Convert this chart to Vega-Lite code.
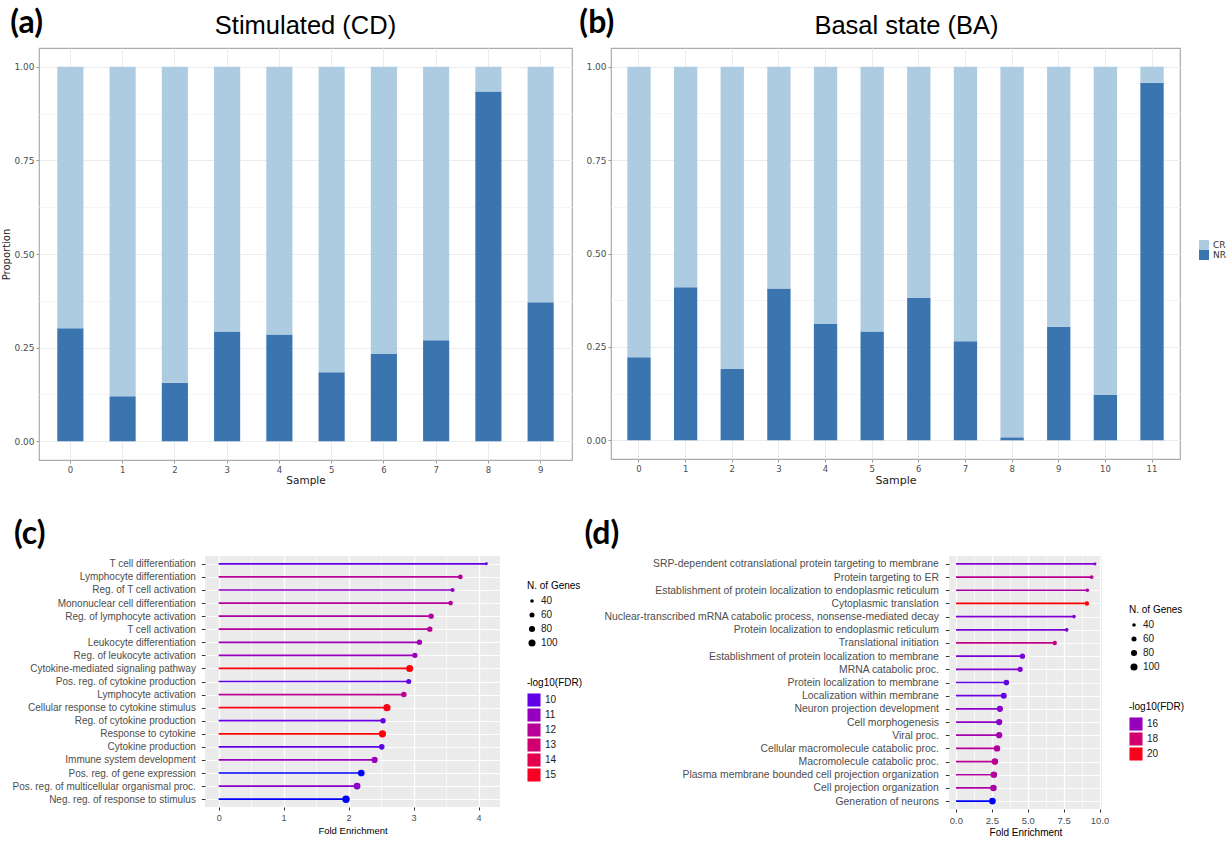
{
  "$schema": "https://vega.github.io/schema/vega-lite/v6.json",
  "background": "white",
  "padding": {"left": 1, "top": 6, "right": 5, "bottom": 2},
  "config": {
    "font": "Liberation Sans",
    "view": {"stroke": null},
    "title": {"color": "black"},
    "legend": {"layout": {"right": {"anchor": "middle", "direction": "vertical", "margin": 30}}}
  },
  "datasets": {
    "a": [
      {"sample": 0, "group": "NR", "value": 0.302}, {"sample": 0, "group": "CR", "value": 0.698},
      {"sample": 1, "group": "NR", "value": 0.120}, {"sample": 1, "group": "CR", "value": 0.880},
      {"sample": 2, "group": "NR", "value": 0.156}, {"sample": 2, "group": "CR", "value": 0.844},
      {"sample": 3, "group": "NR", "value": 0.293}, {"sample": 3, "group": "CR", "value": 0.707},
      {"sample": 4, "group": "NR", "value": 0.285}, {"sample": 4, "group": "CR", "value": 0.715},
      {"sample": 5, "group": "NR", "value": 0.184}, {"sample": 5, "group": "CR", "value": 0.816},
      {"sample": 6, "group": "NR", "value": 0.233}, {"sample": 6, "group": "CR", "value": 0.767},
      {"sample": 7, "group": "NR", "value": 0.270}, {"sample": 7, "group": "CR", "value": 0.730},
      {"sample": 8, "group": "NR", "value": 0.934}, {"sample": 8, "group": "CR", "value": 0.066},
      {"sample": 9, "group": "NR", "value": 0.371}, {"sample": 9, "group": "CR", "value": 0.629}
    ],
    "b": [
      {"sample": 0, "group": "NR", "value": 0.222}, {"sample": 0, "group": "CR", "value": 0.778},
      {"sample": 1, "group": "NR", "value": 0.410}, {"sample": 1, "group": "CR", "value": 0.590},
      {"sample": 2, "group": "NR", "value": 0.191}, {"sample": 2, "group": "CR", "value": 0.809},
      {"sample": 3, "group": "NR", "value": 0.406}, {"sample": 3, "group": "CR", "value": 0.594},
      {"sample": 4, "group": "NR", "value": 0.311}, {"sample": 4, "group": "CR", "value": 0.689},
      {"sample": 5, "group": "NR", "value": 0.291}, {"sample": 5, "group": "CR", "value": 0.709},
      {"sample": 6, "group": "NR", "value": 0.381}, {"sample": 6, "group": "CR", "value": 0.619},
      {"sample": 7, "group": "NR", "value": 0.265}, {"sample": 7, "group": "CR", "value": 0.735},
      {"sample": 8, "group": "NR", "value": 0.008}, {"sample": 8, "group": "CR", "value": 0.992},
      {"sample": 9, "group": "NR", "value": 0.304}, {"sample": 9, "group": "CR", "value": 0.696},
      {"sample": 10, "group": "NR", "value": 0.121}, {"sample": 10, "group": "CR", "value": 0.879},
      {"sample": 11, "group": "NR", "value": 0.957}, {"sample": 11, "group": "CR", "value": 0.043}
    ],
    "c": [
      {"term": "T cell differentiation", "fe": 4.12, "genes": 33, "fdr": 10.0},
      {"term": "Lymphocyte differentiation", "fe": 3.72, "genes": 55, "fdr": 12.0},
      {"term": "Reg. of T cell activation", "fe": 3.60, "genes": 47, "fdr": 10.8},
      {"term": "Mononuclear cell differentiation", "fe": 3.57, "genes": 55, "fdr": 12.0},
      {"term": "Reg. of lymphocyte activation", "fe": 3.27, "genes": 65, "fdr": 11.7},
      {"term": "T cell activation", "fe": 3.25, "genes": 65, "fdr": 12.0},
      {"term": "Leukocyte differentiation", "fe": 3.09, "genes": 65, "fdr": 11.3},
      {"term": "Reg. of leukocyte activation", "fe": 3.02, "genes": 65, "fdr": 11.1},
      {"term": "Cytokine-mediated signaling pathway", "fe": 2.94, "genes": 100, "fdr": 15.3},
      {"term": "Pos. reg. of cytokine production", "fe": 2.925, "genes": 60, "fdr": 10.0},
      {"term": "Lymphocyte activation", "fe": 2.85, "genes": 68, "fdr": 12.1},
      {"term": "Cellular response to cytokine stimulus", "fe": 2.59, "genes": 102, "fdr": 15.2},
      {"term": "Reg. of cytokine production", "fe": 2.53, "genes": 65, "fdr": 10.1},
      {"term": "Response to cytokine", "fe": 2.52, "genes": 105, "fdr": 15.4},
      {"term": "Cytokine production", "fe": 2.51, "genes": 70, "fdr": 10.0},
      {"term": "Immune system development", "fe": 2.40, "genes": 82, "fdr": 11.1},
      {"term": "Pos. reg. of gene expression", "fe": 2.195, "genes": 92, "fdr": 9.4},
      {"term": "Pos. reg. of multicellular organismal proc.", "fe": 2.13, "genes": 95, "fdr": 10.7},
      {"term": "Neg. reg. of response to stimulus", "fe": 1.96, "genes": 110, "fdr": 9.4}
    ],
    "d": [
      {"term": "SRP-dependent cotranslational protein targeting to membrane", "fe": 9.68, "genes": 33, "fdr": 15.6},
      {"term": "Protein targeting to ER", "fe": 9.45, "genes": 42, "fdr": 17.1},
      {"term": "Establishment of protein localization to endoplasmic reticulum", "fe": 9.15, "genes": 40, "fdr": 16.6},
      {"term": "Cytoplasmic translation", "fe": 9.12, "genes": 50, "fdr": 20.3},
      {"term": "Nuclear-transcribed mRNA catabolic process, nonsense-mediated decay", "fe": 8.22, "genes": 40, "fdr": 15.5},
      {"term": "Protein localization to endoplasmic reticulum", "fe": 7.71, "genes": 42, "fdr": 15.4},
      {"term": "Translational initiation", "fe": 6.88, "genes": 50, "fdr": 17.4},
      {"term": "Establishment of protein localization to membrane", "fe": 4.63, "genes": 65, "fdr": 15.4},
      {"term": "MRNA catabolic proc.", "fe": 4.47, "genes": 65, "fdr": 15.5},
      {"term": "Protein localization to membrane", "fe": 3.51, "genes": 70, "fdr": 15.0},
      {"term": "Localization within membrane", "fe": 3.33, "genes": 77, "fdr": 15.1},
      {"term": "Neuron projection development", "fe": 3.06, "genes": 82, "fdr": 15.7},
      {"term": "Cell morphogenesis", "fe": 3.01, "genes": 82, "fdr": 15.8},
      {"term": "Viral proc.", "fe": 3.01, "genes": 82, "fdr": 16.4},
      {"term": "Cellular macromolecule catabolic proc.", "fe": 2.86, "genes": 85, "fdr": 16.9},
      {"term": "Macromolecule catabolic proc.", "fe": 2.71, "genes": 88, "fdr": 17.1},
      {"term": "Plasma membrane bounded cell projection organization", "fe": 2.64, "genes": 88, "fdr": 16.8},
      {"term": "Cell projection organization", "fe": 2.61, "genes": 88, "fdr": 16.6},
      {"term": "Generation of neurons", "fe": 2.54, "genes": 92, "fdr": 14.4}
    ]
  },
  "spacing": 31,
  "vconcat": [
    {
      "spacing": 6,
      "resolve": {"scale": {"color": "independent"}, "legend": {"color": "independent"}},
      "hconcat": [
        {
          "title": {"text": "(a)", "anchor": "start", "font": "Lato", "fontSize": 32, "fontWeight": "bold", "dx": 9, "dy": 27, "offset": 0},
          "vconcat": [
            {
              "title": {"text": "Stimulated (CD)", "frame": "group", "anchor": "middle", "fontSize": 25.5, "fontWeight": "normal", "offset": 9},
              "width": 533, "height": 412,
              "data": {"name": "a"},
              "view": {"stroke": "#ABABAB", "strokeWidth": 1.2},
              "mark": {"type": "bar"},
              "encoding": {
                "x": {"field": "sample", "type": "ordinal", "title": "Sample",
                  "scale": {"paddingInner": 0.5, "paddingOuter": 0.35},
                  "axis": {"labelAngle": 0, "bandPosition": 0.5, "grid": true, "gridColor": "#EBEBEB", "domain": false, "tickColor": "#999999", "tickSize": 3, "labelFont": "DejaVu Sans", "labelFontSize": 8.5, "labelColor": "#4D4D4D", "labelPadding": 2, "titleFont": "DejaVu Sans", "titleFontSize": 10.5, "titleFontWeight": "normal", "titleColor": "#1A1A1A", "titlePadding": 2}},
                "y": {"field": "value", "type": "quantitative", "stack": "zero", "title": "Proportion",
                  "scale": {"domain": [-0.05, 1.05], "nice": false, "zero": false},
                  "axis": {"values": [0, 0.125, 0.25, 0.375, 0.5, 0.625, 0.75, 0.875, 1], "labelExpr": "datum.value % 0.25 == 0 ? format(datum.value, '.2f') : ''", "grid": true, "gridColor": {"condition": {"test": "datum.value % 0.25 != 0", "value": "#F5F5F5"}, "value": "#EBEBEB"}, "domain": false, "tickColor": {"condition": {"test": "datum.value % 0.25 != 0", "value": "transparent"}, "value": "#999999"}, "tickSize": 3, "labelFont": "DejaVu Sans", "labelFontSize": 9, "labelColor": "#4D4D4D", "labelPadding": 2, "titleFont": "DejaVu Sans", "titleFontSize": 10, "titleFontWeight": "normal", "titleColor": "#1A1A1A", "titlePadding": 2}},
                "color": {"field": "group", "type": "nominal", "scale": {"domain": ["CR", "NR"], "range": ["#AECCE1", "#3B75AF"]}, "legend": null},
                "order": {"field": "group", "type": "nominal", "sort": "descending"}
              }
            }
          ]
        },
        {
          "title": {"text": "(b)", "anchor": "start", "font": "Lato", "fontSize": 32, "fontWeight": "bold", "dx": -6, "dy": 27, "offset": 0},
          "vconcat": [
            {
              "title": {"text": "Basal state (BA)", "anchor": "middle", "fontSize": 25.5, "fontWeight": "normal", "offset": 9, "dx": 11},
              "width": 569, "height": 411,
              "data": {"name": "b"},
              "view": {"stroke": "#ABABAB", "strokeWidth": 1.2},
              "mark": {"type": "bar"},
              "encoding": {
                "x": {"field": "sample", "type": "ordinal", "title": "Sample",
                  "scale": {"paddingInner": 0.5, "paddingOuter": 0.35},
                  "axis": {"labelAngle": 0, "bandPosition": 0.5, "grid": true, "gridColor": "#EBEBEB", "domain": false, "tickColor": "#999999", "tickSize": 3, "labelFont": "DejaVu Sans", "labelFontSize": 8.5, "labelColor": "#4D4D4D", "labelPadding": 2, "titleFont": "DejaVu Sans", "titleFontSize": 11, "titleFontWeight": "normal", "titleColor": "#1A1A1A", "titlePadding": 2}},
                "y": {"field": "value", "type": "quantitative", "stack": "zero", "title": null,
                  "scale": {"domain": [-0.05, 1.05], "nice": false, "zero": false},
                  "axis": {"values": [0, 0.125, 0.25, 0.375, 0.5, 0.625, 0.75, 0.875, 1], "labelExpr": "datum.value % 0.25 == 0 ? format(datum.value, '.2f') : ''", "grid": true, "gridColor": {"condition": {"test": "datum.value % 0.25 != 0", "value": "#F5F5F5"}, "value": "#EBEBEB"}, "domain": false, "tickColor": {"condition": {"test": "datum.value % 0.25 != 0", "value": "transparent"}, "value": "#999999"}, "tickSize": 3, "labelFont": "DejaVu Sans", "labelFontSize": 9, "labelColor": "#4D4D4D", "labelPadding": 2}},
                "color": {"field": "group", "type": "nominal", "scale": {"domain": ["CR", "NR"], "range": ["#AECCE1", "#3B75AF"]},
                  "legend": {"title": null, "symbolType": "square", "symbolSize": 100, "symbolStrokeWidth": 0, "rowPadding": 0, "labelFont": "DejaVu Sans", "labelFontSize": 9, "labelColor": "#333333", "offset": 18}},
                "order": {"field": "group", "type": "nominal", "sort": "descending"}
              }
            }
          ]
        }
      ]
    },
    {
      "spacing": -29,
      "hconcat": [
        {
          "width": 1, "height": 1,
          "data": {"values": []},
          "mark": {"type": "point"},
          "encoding": {}
        },
        {
          "spacing": 1,
          "resolve": {"scale": {"fill": "independent", "stroke": "independent", "size": "independent"}, "legend": {"fill": "independent", "stroke": "independent", "size": "independent"}},
          "hconcat": [
            {
              "title": {"text": "(c)", "anchor": "start", "font": "Lato", "fontSize": 32, "fontWeight": "bold", "dx": 2, "offset": 5},
              "width": 295, "height": 251,
              "data": {"name": "c"},
              "view": {"fill": "#EBEBEB", "stroke": null},
              "encoding": {
                "y": {"field": "term", "type": "nominal", "sort": null, "title": null,
                  "scale": {"type": "point", "padding": 0.6},
                  "axis": {"grid": true, "gridColor": "white", "gridWidth": 1.2, "domain": false, "tickColor": "#333333", "tickSize": 3.6, "labelFontSize": 10, "labelColor": "#4D4D4D", "labelPadding": 6, "labelLimit": 400}},
                "x": {"field": "fe", "type": "quantitative", "title": "Fold Enrichment",
                  "scale": {"domain": [-0.21, 4.33], "nice": false, "zero": false},
                  "axis": {"values": [0, 0.5, 1, 1.5, 2, 2.5, 3, 3.5, 4], "labelExpr": "datum.value % 1 == 0 ? format(datum.value, 'd') : ''", "grid": true, "gridColor": "white", "gridWidth": {"condition": {"test": "datum.value % 1 != 0", "value": 0.6}, "value": 1.3}, "domain": false, "tickColor": {"condition": {"test": "datum.value % 1 != 0", "value": "transparent"}, "value": "#333333"}, "tickSize": 3, "labelFontSize": 9, "labelColor": "#4D4D4D", "labelPadding": 3, "titleFontSize": 9.5, "titleFontWeight": "normal", "titleColor": "black", "titlePadding": 3}}
              },
              "layer": [
                {
                  "mark": {"type": "rule", "strokeWidth": 1.7},
                  "encoding": {
                    "x2": {"datum": 0},
                    "stroke": {"field": "fdr", "type": "quantitative", "scale": {"domain": [9.4, 15.40001], "range": ["#0000FF", "#FF0000"], "interpolate": "lab"}, "legend": null}
                  }
                },
                {
                  "mark": {"type": "circle", "opacity": 1},
                  "encoding": {
                    "size": {"field": "genes", "type": "quantitative", "title": "N. of Genes",
                      "scale": {"domain": [40, 100], "range": [13, 50], "zero": false},
                      "legend": {"values": [40, 60, 80, 100], "symbolFillColor": "black", "symbolStrokeWidth": 0, "rowPadding": 4, "titleFontSize": 10, "titleFontWeight": "normal", "titleColor": "black", "labelFontSize": 10, "labelColor": "#1A1A1A", "offset": 27}},
                    "fill": {"field": "fdr", "type": "quantitative", "title": "-log10(FDR)",
                      "scale": {"domain": [9.4, 15.4], "range": ["#0000FF", "#FF0000"], "interpolate": "lab"},
                      "legend": {"type": "symbol", "values": [10, 11, 12, 13, 14, 15], "symbolType": "square", "symbolSize": 170, "symbolStrokeWidth": 0, "titleFontSize": 10, "titleFontWeight": "normal", "titleColor": "black", "labelFontSize": 10, "labelColor": "#1A1A1A", "rowPadding": 1, "offset": 27}}
                  }
                }
              ]
            },
            {
              "title": {"text": "(d)", "anchor": "start", "font": "Lato", "fontSize": 32, "fontWeight": "bold", "dx": -19, "offset": 5},
              "width": 153, "height": 253,
              "data": {"name": "d"},
              "view": {"fill": "#EBEBEB", "stroke": null},
              "encoding": {
                "y": {"field": "term", "type": "nominal", "sort": null, "title": null,
                  "scale": {"type": "point", "padding": 0.6},
                  "axis": {"grid": true, "gridColor": "white", "gridWidth": 1.2, "domain": false, "tickColor": "#333333", "tickSize": 3.6, "labelFontSize": 10.4, "labelColor": "#4D4D4D", "labelPadding": 7, "labelLimit": 500}},
                "x": {"field": "fe", "type": "quantitative", "title": "Fold Enrichment",
                  "scale": {"domain": [-0.484, 10.17], "nice": false, "zero": false},
                  "axis": {"values": [0, 1.25, 2.5, 3.75, 5, 6.25, 7.5, 8.75, 10], "labelExpr": "datum.value % 2.5 == 0 ? format(datum.value, '.1f') : ''", "grid": true, "gridColor": "white", "gridWidth": {"condition": {"test": "datum.value % 2.5 != 0", "value": 0.6}, "value": 1.3}, "domain": false, "tickColor": {"condition": {"test": "datum.value % 2.5 != 0", "value": "transparent"}, "value": "#333333"}, "tickSize": 3, "labelFontSize": 9.5, "labelColor": "#4D4D4D", "labelPadding": 3, "titleFontSize": 10, "titleFontWeight": "normal", "titleColor": "black", "titlePadding": 3}}
              },
              "layer": [
                {
                  "mark": {"type": "rule", "strokeWidth": 1.7},
                  "encoding": {
                    "x2": {"datum": 0},
                    "stroke": {"field": "fdr", "type": "quantitative", "scale": {"domain": [14.4, 20.30001], "range": ["#0000FF", "#FF0000"], "interpolate": "lab"}, "legend": null}
                  }
                },
                {
                  "mark": {"type": "circle", "opacity": 1},
                  "encoding": {
                    "size": {"field": "genes", "type": "quantitative", "title": "N. of Genes",
                      "scale": {"domain": [40, 100], "range": [13, 50], "zero": false},
                      "legend": {"values": [40, 60, 80, 100], "symbolFillColor": "black", "symbolStrokeWidth": 0, "rowPadding": 4, "titleFontSize": 10, "titleFontWeight": "normal", "titleColor": "black", "labelFontSize": 10, "labelColor": "#1A1A1A", "offset": 27}},
                    "fill": {"field": "fdr", "type": "quantitative", "title": "-log10(FDR)",
                      "scale": {"domain": [14.4, 20.3], "range": ["#0000FF", "#FF0000"], "interpolate": "lab"},
                      "legend": {"type": "symbol", "values": [16, 18, 20], "symbolType": "square", "symbolSize": 170, "symbolStrokeWidth": 0, "titleFontSize": 10, "titleFontWeight": "normal", "titleColor": "black", "labelFontSize": 10, "labelColor": "#1A1A1A", "rowPadding": 1, "offset": 27}}
                  }
                }
              ]
            }
          ]
        }
      ]
    }
  ]
}
